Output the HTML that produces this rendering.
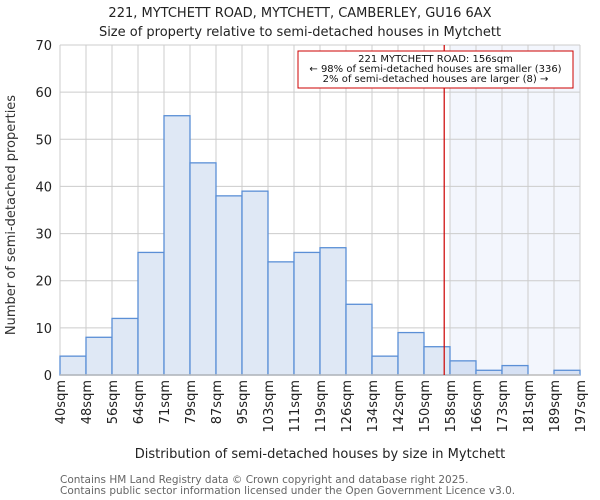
<!DOCTYPE html>
<html><head><meta charset="utf-8"><style>
body{margin:0;background:#fff;}
svg{display:block;font-family:"DejaVu Sans","Liberation Sans",sans-serif;}
</style></head><body>
<svg id="chart" width="600" height="500" viewBox="0 0 600 500">
<text x="300" y="17" text-anchor="middle" font-size="13" fill="#222">221, MYTCHETT ROAD, MYTCHETT, CAMBERLEY, GU16 6AX</text>
<text x="300" y="36" text-anchor="middle" font-size="13" fill="#222">Size of property relative to semi-detached houses in Mytchett</text>
<g id="plot"></g>
<g transform="translate(15,215) rotate(-90)"><text x="0" y="0" text-anchor="middle" font-size="13" fill="#333">Number of semi-detached properties</text></g>
<text x="320" y="458" text-anchor="middle" font-size="13" fill="#222">Distribution of semi-detached houses by size in Mytchett</text>
<text x="60" y="483" font-size="10.5" fill="#666">Contains HM Land Registry data © Crown copyright and database right 2025.</text>
<text x="60" y="494" font-size="10.5" fill="#666">Contains public sector information licensed under the Open Government Licence v3.0.</text>
</svg>
<script>
const categories = ["40sqm","48sqm","56sqm","64sqm","71sqm","79sqm","87sqm","95sqm","103sqm","111sqm","119sqm","126sqm","134sqm","142sqm","150sqm","158sqm","166sqm","173sqm","181sqm","189sqm","197sqm"];
const counts = [4,8,12,26,55,45,38,39,24,26,27,15,4,9,6,3,1,2,0,1];
const yTicks = [0,10,20,30,40,50,60,70];
const propertySize = 156;
const binStart = 40, binWidthSqm = 7.85;
const highlightFromBin = 15;

const NS = "http://www.w3.org/2000/svg";
const g = document.getElementById('plot');
const L = 60, R = 580, T = 45, B = 375, yMax = 70;
const nBins = counts.length;
const bw = (R - L) / nBins;
const xBin = i => L + i * bw;
const y = v => B - v / yMax * (B - T);
function mk(tag, attrs, parent){const e=document.createElementNS(NS,tag);for(const k in attrs)e.setAttribute(k,attrs[k]);(parent||g).appendChild(e);return e;}

const hl = mk('rect',{x:xBin(highlightFromBin),y:T,width:R-xBin(highlightFromBin),height:B-T,fill:'#f3f6fd'});



yTicks.forEach(t=>{
  const l = mk('line',{x1:L,x2:R,y1:y(t),y2:y(t),stroke:'#cccccc','stroke-width':1});
  
  
  const tx = mk('text',{x:L-8,y:y(t)+5,'text-anchor':'end','font-size':13,fill:'#222'});
  tx.textContent = t;
  
  
});
for(let i=0;i<=nBins;i++){
  const l = mk('line',{x1:xBin(i),x2:xBin(i),y1:T,y2:B,stroke:'#cccccc','stroke-width':1});
  
  
}
counts.forEach((c,i)=>{
  if(c<=0) return;
  const r = mk('rect',{x:xBin(i),y:y(c),width:bw,height:B-y(c),fill:i>=highlightFromBin?'#d6e1f4':'#dfe8f5',stroke:'#5b8fd6','stroke-width':1.3});
  
  
});
categories.forEach((c,i)=>{
  const gg = mk('g',{transform:'translate(' + (xBin(i)+5) + ',380) rotate(-90)'});
  const tx = mk('text',{x:0,y:0,'text-anchor':'end','font-size':13,fill:'#222'}, gg);
  tx.textContent = c;
  
  
});
const ax = mk('line',{x1:L,x2:R,y1:B,y2:B,stroke:'#bbbbbb','stroke-width':1.5});


const px = L + (propertySize - binStart) / binWidthSqm * bw;
const pl = mk('line',{x1:px,x2:px,y1:T,y2:B,stroke:'#cc0000','stroke-width':1.2});


const box = mk('rect',{x:298,y:51,width:275,height:37,fill:'#fff',stroke:'#cc0000','stroke-width':1});


["221 MYTCHETT ROAD: 156sqm","← 98% of semi-detached houses are smaller (336)","2% of semi-detached houses are larger (8) →"].forEach((s,k)=>{
  const tx = mk('text',{x:435.5,y:62+k*10,'text-anchor':'middle','font-size':10,fill:'#111'});
  tx.textContent = s;
  
  
});
</script>
</body></html>
